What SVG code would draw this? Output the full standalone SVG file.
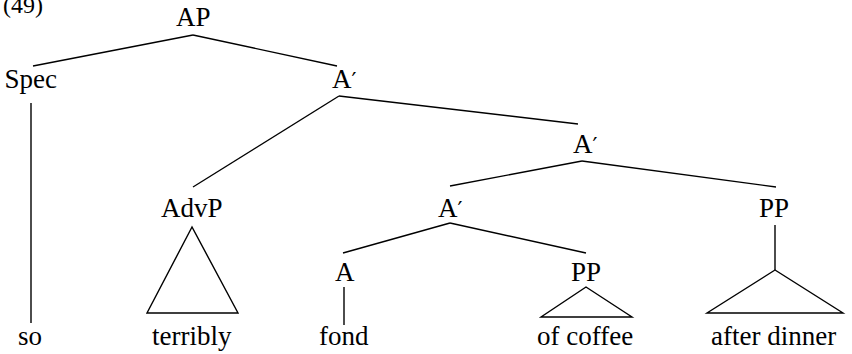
<svg xmlns="http://www.w3.org/2000/svg" width="852" height="354" viewBox="0 0 852 354">
<style>
.e{stroke:#000;stroke-width:1.4;fill:none}
</style>
<rect width="852" height="354" fill="#fff"/>
<text x="3" y="12.5" font-size="24" font-family="Liberation Serif">(49)</text>
<g id="AP"><text x="176" y="26" font-size="27" font-family="Liberation Serif">AP</text></g>
<g id="Spec"><text x="4.5" y="88" font-size="27" font-family="Liberation Serif">Spec</text></g>
<g id="A1"><text x="332" y="88" font-size="27" font-family="Liberation Serif">A<tspan font-family="DejaVu Serif" font-size="22">′</tspan></text></g>
<g id="A2"><text x="573" y="153" font-size="27" font-family="Liberation Serif">A<tspan font-family="DejaVu Serif" font-size="22">′</tspan></text></g>
<g id="AdvP"><text x="161" y="217" font-size="27" font-family="Liberation Serif">AdvP</text></g>
<g id="A3"><text x="438" y="217" font-size="27" font-family="Liberation Serif">A<tspan font-family="DejaVu Serif" font-size="22">′</tspan></text></g>
<g id="PP2"><text x="759" y="217" font-size="27" font-family="Liberation Serif">PP</text></g>
<g id="A"><text x="335" y="281" font-size="27" font-family="Liberation Serif">A</text></g>
<g id="PP1"><text x="571" y="281" font-size="27" font-family="Liberation Serif">PP</text></g>
<g id="so"><text x="18" y="345" font-size="27" font-family="Liberation Serif">so</text></g>
<g id="terribly"><text x="152" y="345" font-size="27" font-family="Liberation Serif">terribly</text></g>
<g id="fond"><text x="319" y="345" font-size="27" font-family="Liberation Serif">fond</text></g>
<g id="ofcoffee"><text x="537" y="345" font-size="27" font-family="Liberation Serif">of coffee</text></g>
<g id="afterdinner"><text x="711" y="345" font-size="27" font-family="Liberation Serif">after dinner</text></g>
<g id="connectors" class="e">
<line x1="193" y1="35" x2="33" y2="66"/>
<line x1="193" y1="35" x2="337" y2="66"/>
<line x1="31" y1="103" x2="31" y2="323"/>
<line x1="339" y1="96" x2="193" y2="187"/>
<line x1="339" y1="96" x2="578" y2="124"/>
<line x1="582" y1="161" x2="450" y2="186"/>
<line x1="582" y1="161" x2="776" y2="187"/>
<polygon points="192,227 147,313 238,313"/>
<line x1="450" y1="223" x2="343" y2="253"/>
<line x1="450" y1="223" x2="586" y2="253"/>
<line x1="344" y1="287" x2="344" y2="325"/>
<polygon points="586,287 541,317 632,317"/>
<line x1="775" y1="225" x2="775" y2="270"/>
<polygon points="775,270 707,313 843,313"/>
</g>
</svg>
